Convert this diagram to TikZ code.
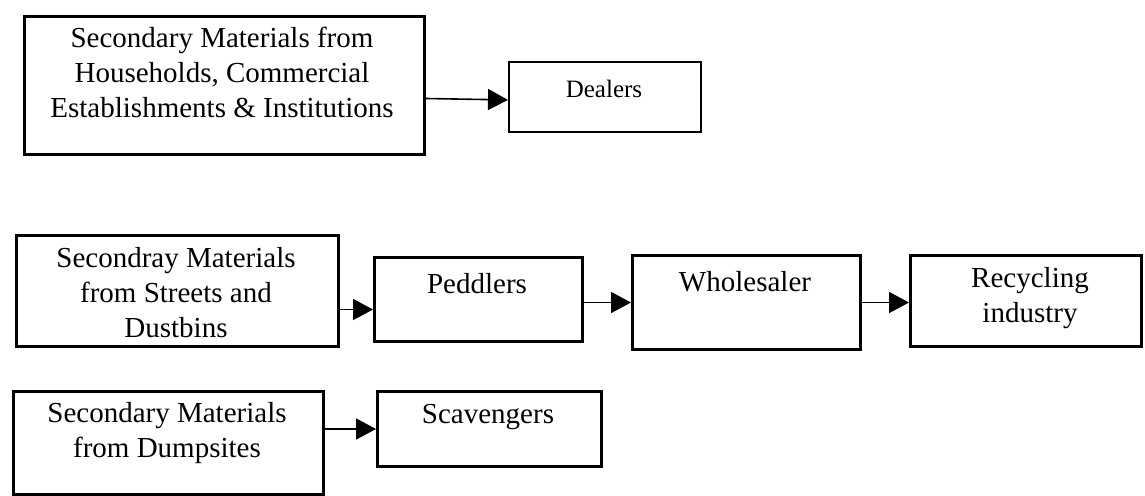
\documentclass[tikz,border=0pt]{standalone}
\usepackage{fontspec}
\setmainfont{Liberation Serif}
\usetikzlibrary{positioning, arrows.meta}

\tikzset{
	box/.style={draw, line width=1.5pt, anchor=north west, inner sep=0pt},
	thinbox/.style={box, line width=0.9pt},
	txt/.style={align=center, inner sep=0pt, font=\fontsize{14.5}{17.5}\selectfont},
	smalltxt/.style={inner sep=0pt, font=\fontsize{12.5}{15}\selectfont},
	flow/.style={-{Triangle[length=10pt,width=10.5pt]}, line width=0.8pt},
}

\begin{document}
\begin{tikzpicture}[x=0.5pt,y=-0.5pt]
	\useasboundingbox (0,0) rectangle (1145,495);
	% boxes
	\node (hh)[box, minimum width=200pt, minimum height=69pt] at (23,15) {};
	\node (dealers)[thinbox, minimum width=96pt, minimum height=35pt] at (508,61) {};
	\node (streets)[box, minimum width=161pt, minimum height=55.5pt] at (15,234) {};
	\node (peddlers)[box, minimum width=104pt, minimum height=42pt] at (373,256) {};
	\node (wholesaler)[box, minimum width=114pt, minimum height=47pt] at (631,254) {};
	\node (recycling)[box, minimum width=115.5pt, minimum height=45.5pt] at (909,254) {};
	\node (dumpsites)[box, minimum width=155pt, minimum height=51.5pt] at (12,390) {};
	\node (scavengers)[box, minimum width=112pt, minimum height=37.5pt] at (376,390) {};
	% texts
	\node (hh-t)[txt, anchor=north] at (222,27) {Secondary Materials from\\Households, Commercial\\Establishments \& Institutions};
	\node (dealers-t)[smalltxt, anchor=base] at (604,97) {Dealers};
	\node (streets-t)[txt, anchor=north] at (176,247) {Secondray Materials\\from Streets and\\Dustbins};
	\node (peddlers-t)[txt, anchor=base] at (477,293) {Peddlers};
	\node (wholesaler-t)[txt, anchor=base] at (745,291) {Wholesaler};
	\node (recycling-t)[txt, anchor=north] at (1030,267) {Recycling\\industry};
	\node (dumpsites-t)[txt, anchor=north] at (167,402) {Secondary Materials\\from Dumpsites};
	\node (scavengers-t)[txt, anchor=base] at (488,423) {Scavengers};
	% arrows
	\coordinate (p2) at ([yshift=-5pt]peddlers.west);
	\draw[flow] ([yshift=-6.5pt]hh.east) -- ([yshift=-1.5pt]dealers.west);
	\draw[flow] (p2 -| streets.east) -- (p2);
	\draw[flow] (wholesaler.west -| peddlers.east) -- (wholesaler.west);
	\draw[flow] (wholesaler.east) -- (wholesaler.east -| recycling.west);
	\draw[flow] (scavengers.west -| dumpsites.east) -- (scavengers.west);
\end{tikzpicture}
\end{document}
